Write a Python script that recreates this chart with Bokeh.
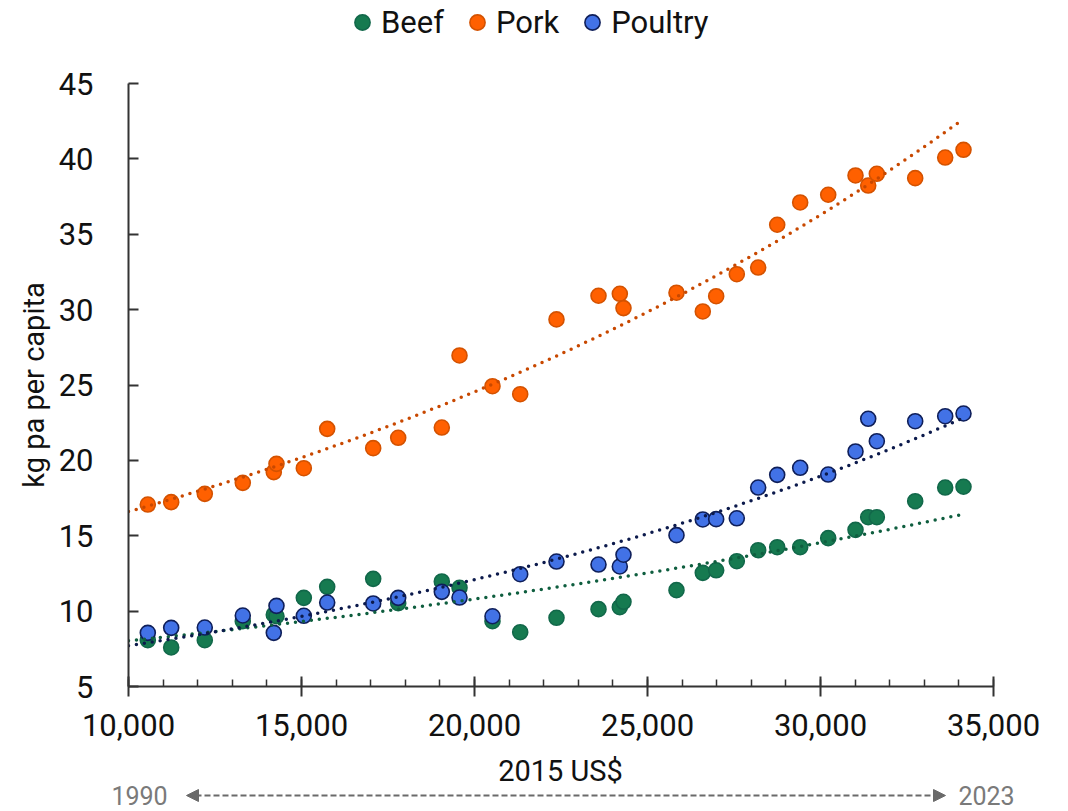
import numpy as np
from bokeh.plotting import figure
from bokeh.layouts import column
from bokeh.models import (Range1d, SingleIntervalTicker, NumeralTickFormatter, Legend,
                          LegendItem, Label, Arrow, NormalHead, Plot)
from bokeh.embed import file_html
from bokeh.resources import INLINE

# GDP per capita (2015 US$), one point per year 1990-2023 (as visible)
gdp = [10558, 11234, 12205, 13303, 14199, 14277, 15067, 15743, 17072, 17795, 19055, 19567,
       20520, 21321, 22370, 23584, 24200, 24306, 25838, 26598, 26985, 27581, 28199, 28749,
       29413, 30223, 31012, 31379, 31628, 32737, 33604, 34133]
beef = [8.07, 7.59, 8.07, 9.33, 9.76, 9.66, 10.88, 11.61, 12.14, 10.53, 11.97, 11.55,
        9.33, 8.60, 9.56, 10.13, 10.26, 10.62, 11.39, 12.54, 12.71, 13.31, 14.04, 14.24,
        14.24, 14.84, 15.39, 16.23, 16.23, 17.29, 18.20, 18.25]
pork = [17.07, 17.23, 17.78, 18.51, 19.22, 19.77, 19.48, 22.09, 20.81, 21.50, 22.18, 26.96,
        24.92, 24.39, 29.35, 30.92, 31.05, 30.10, 31.12, 29.88, 30.89, 32.35, 32.79, 35.63,
        37.11, 37.62, 38.90, 38.23, 39.01, 38.72, 40.09, 40.60]
poultry = [8.56, 8.89, 8.91, 9.71, 8.56, 10.35, 9.69, 10.57, 10.51, 10.88, 11.28, 10.90,
           9.66, 12.45, 13.29, 13.09, 12.96, 13.74, 15.04, 16.08, 16.10, 16.16, 18.20, 19.04,
           19.51, 19.06, 20.59, 22.76, 21.27, 22.60, 22.93, 23.11]
series_names = ["Beef", "Pork", "Poultry"]
x_title = "2015 US$"
y_title = "kg pa per capita"
year_start, year_end = "1990", "2023"

FONT = "Roboto"
W = 1060
TOP_H, BOT_H = 60, 58
CAN_UNALIGN = "frame_align" in Plot.properties()

styles = {
    "Beef": dict(fill="#167a50", line="#12684a", trend="#0f5e3f"),
    "Pork": dict(fill="#ff6000", line="#d45200", trend="#c84800"),
    "Poultry": dict(fill="#4272e6", line="#0f1f5a", trend="#0c1a4c"),
}
data = {"Beef": beef, "Pork": pork, "Poultry": poultry}


def strip(height, full_width=False):
    common = dict(output_backend="svg", toolbar_location=None, height=height,
                  y_range=Range1d(0, height), x_axis_type=None, y_axis_type=None,
                  min_border_top=0, min_border_bottom=0)
    if full_width and CAN_UNALIGN:
        f = figure(width=W, x_range=Range1d(0, W), min_border_left=0, min_border_right=0,
                   frame_align=False, **common)
    else:
        # frame aligned with the main chart: page pixels 128..993
        f = figure(frame_width=865, x_range=Range1d(128, 993), min_border_left=128,
                   min_border_right=67, **common)
    f.outline_line_color = None
    f.xgrid.visible = False
    f.ygrid.visible = False
    return f


# ---- legend strip ----
top = strip(TOP_H)
leg_items = []
for name in series_names:
    st = styles[name]
    r = top.scatter([-10], [-10], size=15, marker="circle", fill_color=st["fill"],
                    line_color=st["line"], line_width=1.6)
    leg_items.append(LegendItem(label=name, renderers=[r]))
legend = Legend(items=leg_items, orientation="horizontal", location=(215, 19),
                glyph_width=38, glyph_height=38, label_standoff=0, spacing=14,
                padding=0, margin=0, border_line_color=None, background_fill_alpha=0,
                label_text_font=FONT, label_text_font_size="31px", label_text_color="#111111")
top.add_layout(legend, "center")

# ---- main chart ----
p = figure(output_backend="svg", toolbar_location=None,
           frame_width=865, frame_height=603,
           min_border_left=128, min_border_right=67, min_border_top=23, min_border_bottom=66,
           x_range=Range1d(10000, 35000), y_range=Range1d(5, 45))
p.outline_line_color = None
p.xgrid.visible = False
p.ygrid.visible = False

for name in series_names:
    st = styles[name]
    p.scatter(gdp, data[name], size=15, marker="circle", fill_color=st["fill"],
              line_color=st["line"], line_width=1.6)

# exponential trend lines (least squares on log y)
gx = np.array(gdp, dtype=float)
xs = np.linspace(10000, gx.max(), 200)
for name in series_names:
    b, a = np.polyfit(gx, np.log(np.array(data[name])), 1)
    p.line(xs, np.exp(a + b * xs), line_color=styles[name]["trend"], line_width=3.5,
           line_dash="0 8", line_cap="round")

xa = p.xaxis[0]
xa.ticker = SingleIntervalTicker(interval=5000, num_minor_ticks=5)
xa.formatter = NumeralTickFormatter(format="0,0")
xa.major_tick_in = 10
xa.major_tick_out = 10
xa.minor_tick_in = 7
xa.minor_tick_out = 0
xa.major_label_standoff = 17

ya = p.yaxis[0]
ya.ticker = SingleIntervalTicker(interval=5, num_minor_ticks=0)
ya.axis_label = y_title
ya.major_tick_in = 10
ya.major_tick_out = 0
ya.minor_tick_in = 0
ya.minor_tick_out = 0
ya.major_label_standoff = 35
ya.axis_label_standoff = 5

for ax in (xa, ya):
    ax.axis_line_color = "#333333"
    ax.axis_line_width = 2
    ax.major_tick_line_color = "#333333"
    ax.major_tick_line_width = 2
    ax.minor_tick_line_color = "#333333"
    ax.minor_tick_line_width = 1.5
    ax.major_label_text_font = FONT
    ax.major_label_text_font_size = "31px"
    ax.major_label_text_color = "#111111"
    ax.axis_label_text_font = FONT
    ax.axis_label_text_font_size = "29px"
    ax.axis_label_text_font_style = "normal"
    ax.axis_label_text_color = "#111111"

# ---- strip below: x-axis title and time-direction arrow (page-pixel x units) ----
bot = strip(BOT_H, full_width=True)
bot.add_layout(Label(x=560, y=40, text=x_title, text_align="center", text_baseline="middle",
                     text_color="#111111", text_font=FONT, text_font_size="29px"))
grey = "#6a6a6a"
AY = 15
bot.add_layout(Arrow(start=NormalHead(size=12, fill_color=grey, line_color=grey),
                     end=NormalHead(size=12, fill_color=grey, line_color=grey),
                     x_start=186, y_start=AY, x_end=945, y_end=AY,
                     line_color=grey, line_width=2, line_dash="6 3"))
for txt, xpos in ((year_start, 139), (year_end, 986)):
    bot.add_layout(Label(x=xpos, y=AY, text=txt, text_align="center", text_baseline="middle",
                         text_color="#7a7a7a", text_font=FONT, text_font_size="25px"))

layout = column(top, p, bot, spacing=0)
open("out.html", "w").write(file_html(layout, INLINE))
